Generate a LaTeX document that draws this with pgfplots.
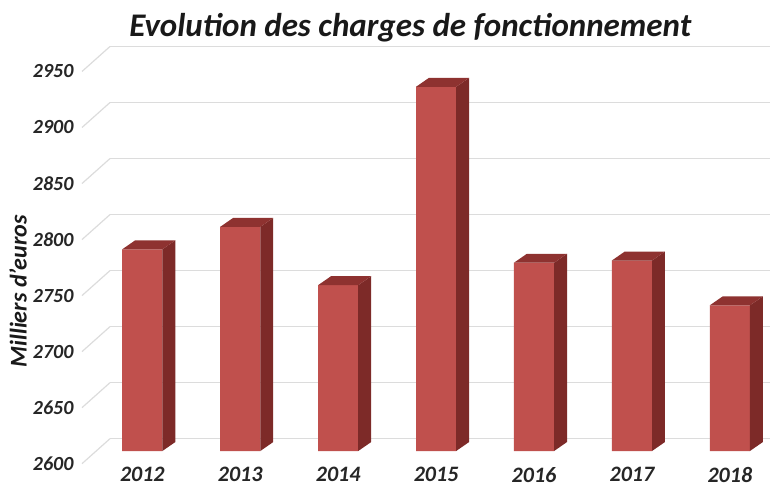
\documentclass[border=0pt]{standalone}
\usepackage{fontspec}
\setmainfont{Carlito}
\usepackage{pgfplots}
\pgfplotsset{compat=1.18}
\definecolor{front}{HTML}{C0504D}
\definecolor{side}{HTML}{7D2A28}
\definecolor{topf}{HTML}{8E3230}
\definecolor{gridc}{HTML}{DCDCDC}
\begin{document}
\begin{tikzpicture}
\path[use as bounding box] (0,0) rectangle (770pt,490pt);
\begin{axis}[
  at={(110pt,39pt)}, anchor=south west,
  scale only axis,
  width=660pt, height=409pt,
  xmin=-0.33, xmax=6.41,
  ymin=2600, ymax=2965,
  clip mode=individual,
  axis line style={draw=none},
  xtick={0,1,2,3,4,5,6},
  xticklabels={2012,2013,2014,2015,2016,2017,2018},
  ytick={2611,2661,2711,2761,2811,2861,2911,2961},
  yticklabels={2600,2650,2700,2750,2800,2850,2900,2950},
  major tick length=0pt,
  ymajorgrids, grid style={gridc, line width=1.2pt},
  tick label style={font=\fontsize{20}{22}\selectfont\bfseries\itshape, text=black!85},
  yticklabel style={anchor=east, xshift=-33pt, yshift=-25pt},
  xticklabel style={yshift=-13pt, font=\fontsize{22}{24}\selectfont\bfseries\itshape},
  title={Evolution des charges de fonctionnement},
  title style={at={(rel axis cs:0.455,1)}, anchor=base, yshift=-1pt,
    font=\fontsize{33}{36}\selectfont\bfseries\itshape, text=black!90},
  ylabel={Milliers d'euros},
  ylabel style={at={(rel axis cs:0,0.39)}, anchor=center, yshift=92pt,
    font=\fontsize{24}{27}\selectfont\bfseries\itshape, text=black!90},
]
% left-wall diagonals
\pgfplotsinvokeforeach{2611,2661,2711,2761,2811,2861,2911,2961}{
  \draw[gridc, line width=1.2pt] (axis cs:-0.33,#1) -- ++(-28pt,-25pt);
}
% front faces
\addplot[ybar, bar width=0.41, fill=front, draw=none] coordinates {
  (0,2780) (1,2800) (2,2748) (3,2925) (4,2768) (5,2770) (6,2730)};
% side faces
\addplot[fill=side, draw=none] coordinates {(0.205,2600)(0.337,2608)(0.337,2788)(0.205,2780)} -- cycle;
\addplot[fill=side, draw=none] coordinates {(1.205,2600)(1.337,2608)(1.337,2808)(1.205,2800)} -- cycle;
\addplot[fill=side, draw=none] coordinates {(2.205,2600)(2.337,2608)(2.337,2756)(2.205,2748)} -- cycle;
\addplot[fill=side, draw=none] coordinates {(3.205,2600)(3.337,2608)(3.337,2933)(3.205,2925)} -- cycle;
\addplot[fill=side, draw=none] coordinates {(4.205,2600)(4.337,2608)(4.337,2776)(4.205,2768)} -- cycle;
\addplot[fill=side, draw=none] coordinates {(5.205,2600)(5.337,2608)(5.337,2778)(5.205,2770)} -- cycle;
\addplot[fill=side, draw=none] coordinates {(6.205,2600)(6.337,2608)(6.337,2738)(6.205,2730)} -- cycle;
% top faces
\addplot[fill=topf, draw=none] coordinates {(-0.205,2780)(0.205,2780)(0.337,2788)(-0.073,2788)} -- cycle;
\addplot[fill=topf, draw=none] coordinates {(0.795,2800)(1.205,2800)(1.337,2808)(0.927,2808)} -- cycle;
\addplot[fill=topf, draw=none] coordinates {(1.795,2748)(2.205,2748)(2.337,2756)(1.927,2756)} -- cycle;
\addplot[fill=topf, draw=none] coordinates {(2.795,2925)(3.205,2925)(3.337,2933)(2.927,2933)} -- cycle;
\addplot[fill=topf, draw=none] coordinates {(3.795,2768)(4.205,2768)(4.337,2776)(3.927,2776)} -- cycle;
\addplot[fill=topf, draw=none] coordinates {(4.795,2770)(5.205,2770)(5.337,2778)(4.927,2778)} -- cycle;
\addplot[fill=topf, draw=none] coordinates {(5.795,2730)(6.205,2730)(6.337,2738)(5.927,2738)} -- cycle;
\end{axis}
\end{tikzpicture}
\end{document}
